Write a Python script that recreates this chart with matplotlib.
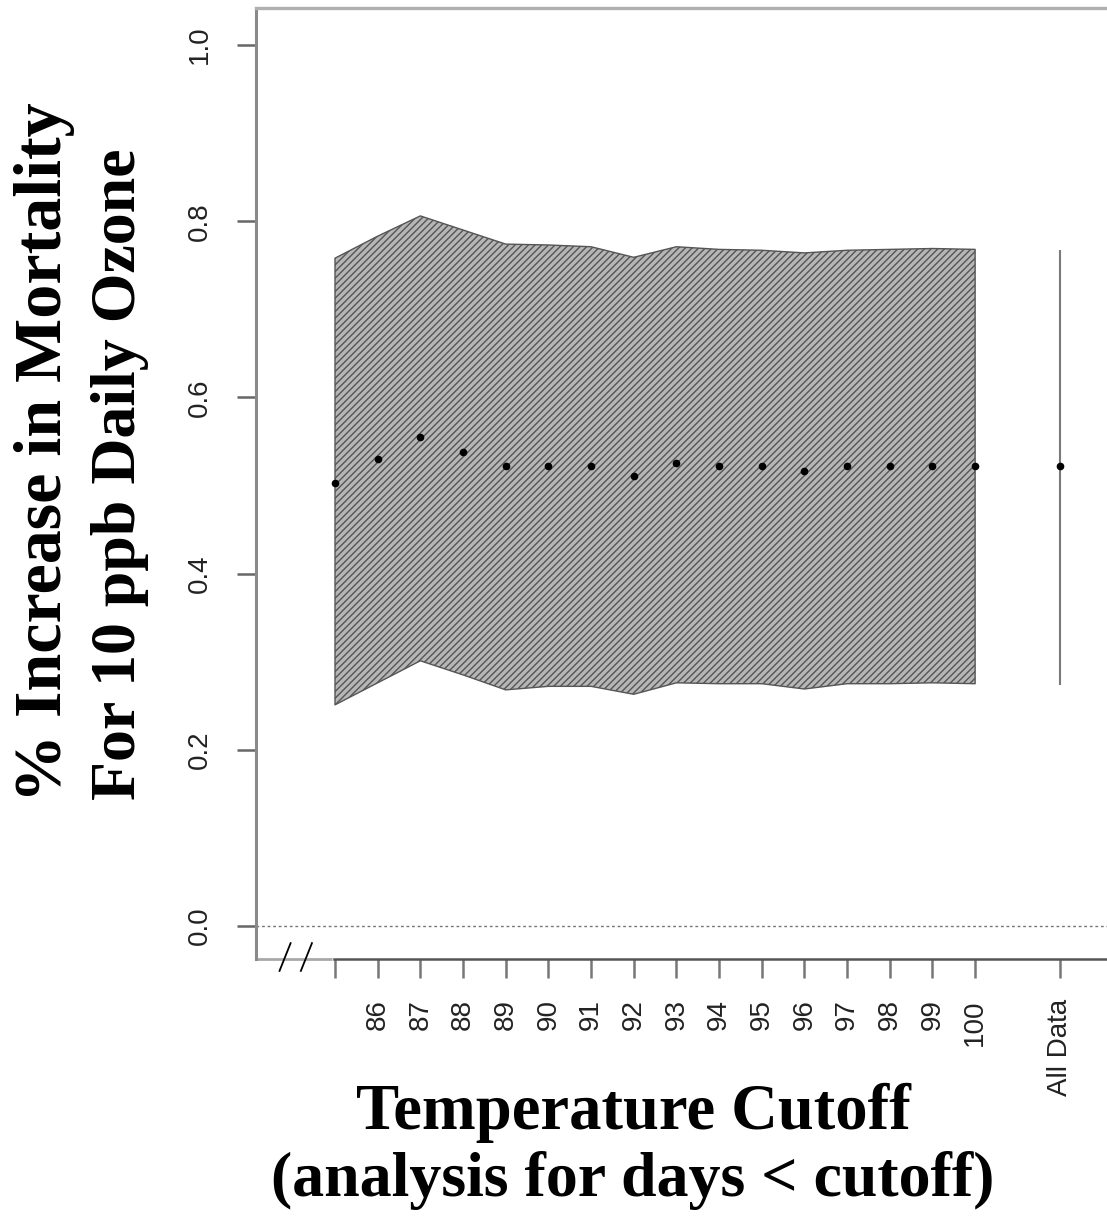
import numpy as np
import matplotlib
matplotlib.use("Agg")
import matplotlib.pyplot as plt

# temperature cutoffs (85 has a tick but no label), "All Data" sits at 102
cutoffs = [85, 86, 87, 88, 89, 90, 91, 92, 93, 94, 95, 96, 97, 98, 99, 100]
tick_labels = ["", "86", "87", "88", "89", "90", "91", "92", "93", "94", "95",
               "96", "97", "98", "99", "100", "All Data"]
all_data_pos = 102

estimate = [0.503, 0.530, 0.555, 0.538, 0.522, 0.522, 0.522, 0.511, 0.525,
            0.522, 0.522, 0.516, 0.522, 0.522, 0.522, 0.522]
upper = [0.758, 0.783, 0.806, 0.790, 0.774, 0.773, 0.771, 0.759, 0.771,
         0.768, 0.767, 0.764, 0.767, 0.768, 0.769, 0.768]
lower = [0.251, 0.276, 0.301, 0.285, 0.268, 0.272, 0.272, 0.263, 0.276,
         0.275, 0.275, 0.269, 0.275, 0.275, 0.276, 0.275]

all_est = 0.522
all_lo = 0.274
all_hi = 0.767

yticks = [0.0, 0.2, 0.4, 0.6, 0.8, 1.0]

W, H = 1107, 1222
fig = plt.figure(figsize=(W / 100, H / 100), dpi=100)
plt.rcParams["hatch.linewidth"] = 1.0

ax_left, ax_right, ax_top, ax_bot = 256, 1107, 8, 959
ax = fig.add_axes([ax_left / W, 1 - ax_bot / H, (ax_right - ax_left) / W, (ax_bot - ax_top) / H])

xmin, xmax = 83.149, 103.09
ymin, ymax = -0.0375, 1.042
ax.set_xlim(xmin, xmax)
ax.set_ylim(ymin, ymax)

# shaded confidence band
ax.fill_between(cutoffs, lower, upper, facecolor="#b6b6b6", hatch="/////",
                edgecolor="#555555", linewidth=1.0)
ax.plot(cutoffs, estimate, "o", color="black", ms=4.5, mec="black")

# all data interval
ax.vlines(all_data_pos, all_lo, all_hi, color="#7a7a7a", lw=1.5)
ax.plot([all_data_pos], [all_est], "o", color="black", ms=4.5)

# zero reference
ax.axhline(0, color="#777777", lw=1.0, ls=(0, (2, 2)))

# spines
ax.spines["right"].set_visible(False)
ax.spines["left"].set_color("#8a8a8a")
ax.spines["left"].set_linewidth(2.2)
ax.spines["top"].set_color("#b0b0b0")
ax.spines["top"].set_linewidth(2.4)
ax.spines["bottom"].set_color("#555555")
ax.spines["bottom"].set_linewidth(1.8)
ax.spines["bottom"].set_bounds(84.97, xmax)
# left piece of the broken x axis
ax.plot([xmin, 84.93], [ymin, ymin], color="#a8a8a8", lw=2.0, clip_on=False,
        solid_capstyle="butt")
# axis break marks
for xb in [83.7, 84.2]:
    ax.plot([xb, xb + 0.26], [ymin - 0.0135, ymin + 0.018], color="black",
            lw=1.3, clip_on=False)

ax.set_xticks(cutoffs + [all_data_pos])
ax.set_xticklabels(tick_labels, rotation=90, va="top",
                   fontfamily="Liberation Sans", fontsize=20, color="#222222")
ax.tick_params(axis="x", direction="out", length=14, width=1.8, color="#777777", pad=15)

ax.set_yticks(yticks)
ax.set_yticklabels([f"{v:.1f}" for v in yticks], rotation=90, va="center",
                   fontfamily="Liberation Sans", fontsize=20, color="#222222")
ax.tick_params(axis="y", direction="out", length=14, width=1.8, color="#666666", pad=17)

# axis titles
fig.text(45 / W, 1 - 452 / H, "% Increase in Mortality", rotation=90,
         ha="center", va="center", fontfamily="Liberation Serif",
         fontweight="bold", fontsize=49)
fig.text(120 / W, 1 - 474 / H, "For 10 ppb Daily Ozone", rotation=90,
         ha="center", va="center", fontfamily="Liberation Serif",
         fontweight="bold", fontsize=46)
fig.text(633 / W, 1 - 1113 / H, "Temperature Cutoff", ha="center", va="center",
         fontfamily="Liberation Serif", fontweight="bold", fontsize=46.5)
fig.text(633 / W, 1 - 1181 / H, "(analysis for days < cutoff)", ha="center",
         va="center", fontfamily="Liberation Serif", fontweight="bold", fontsize=46)

fig.savefig("out.png", dpi=100)
